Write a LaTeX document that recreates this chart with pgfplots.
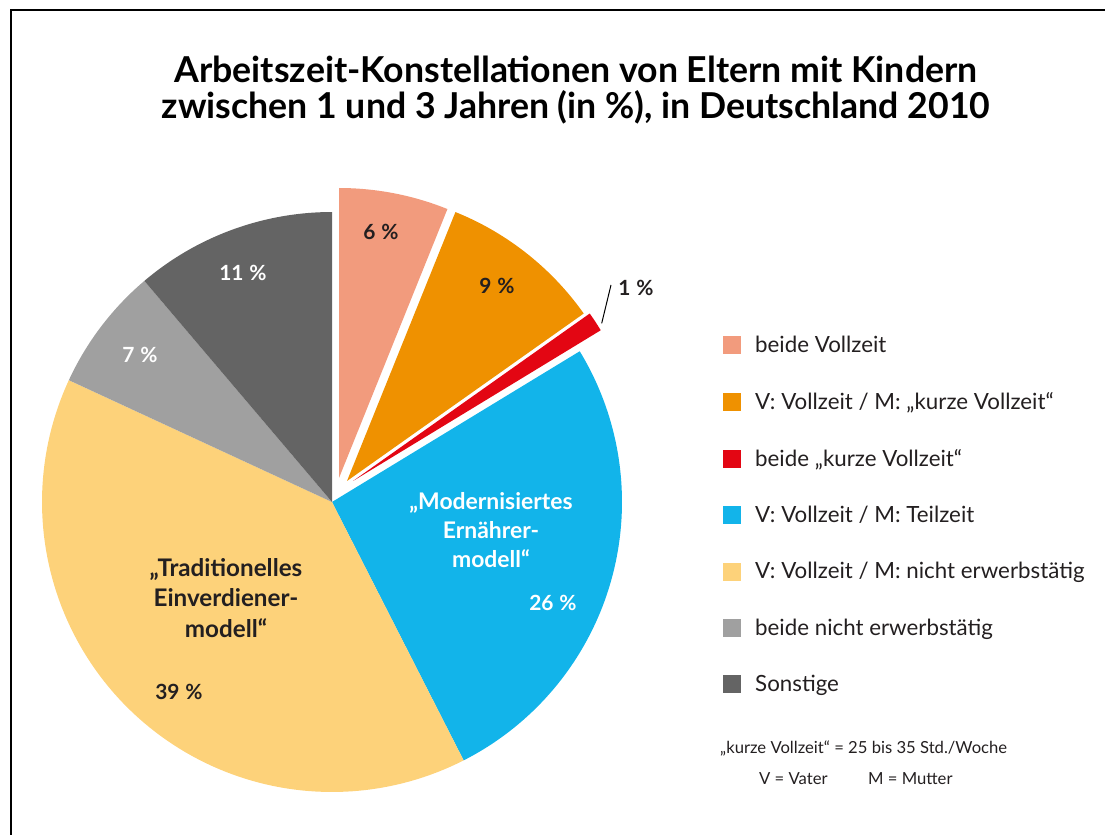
\documentclass[border=0pt]{standalone}
\usepackage{pgfplots}
\pgfplotsset{compat=1.18}
\usepackage{pgfplotstable}
\usepackage{fontspec}
\setmainfont{Lato}
\definecolor{cSal}{RGB}{242,155,125}
\definecolor{cOra}{RGB}{239,145,0}
\definecolor{cRed}{RGB}{227,6,19}
\definecolor{cBlu}{RGB}{18,180,234}
\definecolor{cYel}{RGB}{253,210,122}
\definecolor{cLgr}{RGB}{160,160,160}
\definecolor{cDgr}{RGB}{100,100,100}
\definecolor{cTxt}{RGB}{35,31,32}
\pgfplotstableread{
idx value
1 6.1
2 9.1
3 1.1
4 26.2
5 39.4
6 6.9
7 11.2
}\slicedata
\pgfplotstablegetelem{0}{value}\of\slicedata \let\vA\pgfplotsretval
\pgfplotstablegetelem{1}{value}\of\slicedata \let\vB\pgfplotsretval
\pgfplotstablegetelem{2}{value}\of\slicedata \let\vC\pgfplotsretval
\pgfplotstablegetelem{3}{value}\of\slicedata \let\vD\pgfplotsretval
\pgfplotstablegetelem{4}{value}\of\slicedata \let\vE\pgfplotsretval
\pgfplotstablegetelem{5}{value}\of\slicedata \let\vF\pgfplotsretval
\pgfplotstablegetelem{6}{value}\of\slicedata \let\vG\pgfplotsretval
\pgfmathsetmacro\total{\vA+\vB+\vC+\vD+\vE+\vF+\vG}
\pgfmathsetmacro\aA{0}
\pgfmathsetmacro\aB{\aA+360*\vA/\total}
\pgfmathsetmacro\aC{\aB+360*\vB/\total}
\pgfmathsetmacro\aD{\aC+360*\vC/\total}
\pgfmathsetmacro\aE{\aD+360*\vD/\total}
\pgfmathsetmacro\aF{\aE+360*\vE/\total}
\pgfmathsetmacro\aG{\aF+360*\vF/\total}
\pgfmathsetmacro\aH{360}
\newcommand\pct[1]{#1\hspace{0.28em}\%}
\begin{document}%
\begin{tikzpicture}
\begin{axis}[at={(0,0)}, anchor=origin, x=1bp, y=1bp,
  xmin=0, xmax=1105, ymin=0, ymax=835, hide axis, clip=false,
  xtick=\empty, ytick=\empty,
  legend style={at={(axis cs:723,499)}, anchor=north west, draw=none, fill=none,
    inner sep=0pt, font=\fontsize{22.4}{25}\selectfont, text=cTxt,
    row sep=38.3bp, column sep=14bp, nodes={inner sep=0pt}},
  legend cell align=left,
  legend image code/.code={\fill[#1] (0bp,-9bp) rectangle (18bp,9bp);},
]
\addplot[fill=cSal, draw=none, domain=\aA:\aB, samples=40] ({339+290*sin(x)},{357+290*cos(x)}) -- (axis cs:339,357) -- cycle;
\addlegendentry{beide Vollzeit}
\addplot[fill=cOra, draw=none, domain=\aB:\aC, samples=40] ({347+290*sin(x)},{354+290*cos(x)}) -- (axis cs:347,354) -- cycle;
\addlegendentry{V: Vollzeit / M: „kurze Vollzeit“}
\addplot[fill=cRed, draw=none, domain=\aC:\aD, samples=10] ({353+290*sin(x)},{354+290*cos(x)}) -- (axis cs:353,354) -- cycle;
\addlegendentry{beide „kurze Vollzeit“}
\addplot[fill=cBlu, draw=none, domain=\aD:\aE, samples=80] ({332+290*sin(x)},{333+290*cos(x)}) -- (axis cs:332,333) -- cycle;
\addlegendentry{V: Vollzeit / M: Teilzeit}
\addplot[fill=cYel, draw=none, domain=\aE:\aF, samples=100] ({332+290*sin(x)},{333+290*cos(x)}) -- (axis cs:332,333) -- cycle;
\addlegendentry{V: Vollzeit / M: nicht erwerbstätig}
\addplot[fill=cLgr, draw=none, domain=\aF:\aG, samples=30] ({332+290*sin(x)},{333+290*cos(x)}) -- (axis cs:332,333) -- cycle;
\addlegendentry{beide nicht erwerbstätig}
\addplot[fill=cDgr, draw=none, domain=\aG:\aH, samples=40] ({332+290*sin(x)},{333+290*cos(x)}) -- (axis cs:332,333) -- cycle;
\addlegendentry{Sonstige}
\addplot[black, line width=1bp, forget plot] coordinates {(601.7,511.7) (611,550)};
% frame
\draw[line width=1.5bp] (axis cs:11,0) -- (axis cs:11,825) -- (axis cs:1105,825);
% title
\node[align=center, font=\bfseries\fontsize{35.8}{35.5}\selectfont, text=black] at (axis cs:576,745) {Arbeitszeit-Konstellationen von Eltern mit Kindern\\zwischen 1 und 3 Jahren (in \%), in Deutschland 2010};
% slice labels
\node[font=\bfseries\fontsize{21}{24}\selectfont, text=cTxt] at (axis cs:381,603) {\pct{6}};
\node[font=\bfseries\fontsize{21}{24}\selectfont, text=cTxt] at (axis cs:497,549) {\pct{9}};
\node[font=\bfseries\fontsize{21}{24}\selectfont, text=cTxt] at (axis cs:636,547) {\pct{1}};
\node[font=\bfseries\fontsize{21}{24}\selectfont, text=white] at (axis cs:243,562) {\pct{11}};
\node[font=\bfseries\fontsize{21}{24}\selectfont, text=white] at (axis cs:140,480) {\pct{7}};
\node[font=\bfseries\fontsize{21}{24}\selectfont, text=cTxt] at (axis cs:179,143) {\pct{39}};
\node[font=\bfseries\fontsize{21}{24}\selectfont, text=white] at (axis cs:553,232) {\pct{26}};
\node[align=center, font=\bfseries\fontsize{23}{29.5}\selectfont, text=white] at (axis cs:491,305) {„Modernisiertes\\Ernährer-\\modell“};
\node[align=center, font=\bfseries\fontsize{24.3}{30.5}\selectfont, text=cTxt] at (axis cs:226,237) {„Traditionelles\\Einverdiener-\\modell“};
% footnote
\node[anchor=west, inner sep=0pt, font=\fontsize{16.7}{19}\selectfont, text=cTxt] at (axis cs:720,87) {„kurze Vollzeit“ = 25 bis 35 Std./Woche};
\node[anchor=west, inner sep=0pt, font=\fontsize{16.7}{19}\selectfont, text=cTxt] at (axis cs:759,56) {V = Vater};
\node[anchor=west, inner sep=0pt, font=\fontsize{16.7}{19}\selectfont, text=cTxt] at (axis cs:868,56) {M = Mutter};
\end{axis}
\pgfresetboundingbox
\useasboundingbox (0,0) rectangle (1105bp,835bp);
\end{tikzpicture}%
\end{document}
